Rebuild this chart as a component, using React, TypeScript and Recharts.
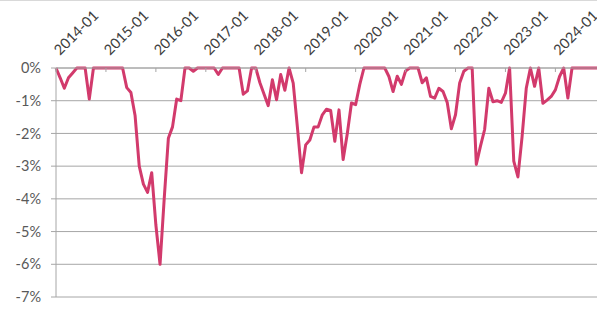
import React from "react";
import { LineChart, Line, XAxis, YAxis, CartesianGrid } from "recharts";

const startYear = 2014;
const tickLabels = ["2014-01","2015-01","2016-01","2017-01","2018-01","2019-01","2020-01","2021-01","2022-01","2023-01","2024-01"];
const yTicks = [0, -1, -2, -3, -4, -5, -6, -7];

const dd2014 = [0, -0.3, -0.62, -0.3, -0.15, 0, 0, 0, -0.95, 0, 0, 0];
const dd2015 = [0, 0, 0, 0, 0, -0.6, -0.75, -1.45, -3.0, -3.55, -3.8, -3.2];
const dd2016 = [-4.8, -6.0, -4.0, -2.15, -1.8, -0.95, -1.0, 0, 0, -0.1, 0, 0];
const dd2017 = [0, 0, 0, -0.2, 0, 0, 0, 0, 0, -0.8, -0.7, 0];
const dd2018 = [0, -0.45, -0.8, -1.15, -0.36, -0.97, -0.2, -0.68, 0, -0.46, -1.8, -3.2];
const dd2019 = [-2.35, -2.2, -1.8, -1.8, -1.43, -1.26, -1.3, -2.24, -1.28, -2.8, -2.0, -1.07];
const dd2020 = [-1.12, -0.5, 0, 0, 0, 0, 0, 0, -0.26, -0.72, -0.25, -0.5];
const dd2021 = [-0.09, 0, 0, 0, -0.45, -0.3, -0.87, -0.92, -0.62, -0.72, -1.05, -1.86];
const dd2022 = [-1.43, -0.46, -0.1, 0, 0, -2.95, -2.39, -1.88, -0.62, -1.03, -1.0, -1.05];
const dd2023 = [-0.77, 0, -2.85, -3.33, -2.1, -0.62, 0, -0.56, 0, -1.08, -0.98, -0.87];
const dd2024 = [-0.67, -0.26, 0, -0.92, 0, 0, 0, 0, 0, 0, 0];

const values = [...dd2014, ...dd2015, ...dd2016, ...dd2017, ...dd2018, ...dd2019, ...dd2020, ...dd2021, ...dd2022, ...dd2023, ...dd2024];

const months = values.map((_, i) => {
  const y = startYear + Math.floor(i / 12);
  const m = (i % 12) + 1;
  return `${y}-${m < 10 ? "0" + m : m}`;
});

const data = values.map((v, i) => ({ month: months[i], dd: v }));

const FONT = "Lato, 'Open Sans', sans-serif";

const XTick = (props: any) => {
  const { x, y, payload } = props;
  const label = payload.value as string;
  if (!tickLabels.includes(label)) return null;
  const bx = x + 4;
  const by = y - 12;
  return (
    <g>
      <line x1={x} y1={y} x2={x} y2={y + 4} stroke="#a6a6a6" strokeWidth={1} />
      <text
        x={bx}
        y={by}
        textAnchor="start"
        fill="#404040"
        fontSize={14.5}
        fontFamily={FONT}
        transform={`rotate(-45, ${bx}, ${by})`}
      >
        {label}
      </text>
    </g>
  );
};

export default function App() {
  return (
    <div style={{ position: "absolute", left: 0, top: 0, width: 597, height: 314, background: "#fff" }}>
      <div style={{ position: "absolute", left: 0, top: 0, width: 597, height: 1, background: "#d9d9d9" }} />
      <LineChart
        width={597}
        height={314}
        data={data}
        margin={{ top: 0, right: 0, left: 0, bottom: 17 }}
      >
        <CartesianGrid vertical={false} stroke="#a6a6a6" strokeWidth={1} />
        <XAxis
          dataKey="month"
          orientation="top"
          height={68}
          interval={11}
          tickSize={0}
          tickMargin={0}
          tickLine={false}
          axisLine={{ stroke: "#a6a6a6" }}
          tick={<XTick />}
        />
        <YAxis
          type="number"
          domain={[-7, 0]}
          ticks={yTicks}
          width={56}
          tickSize={5}
          tickMargin={10}
          interval={0}
          axisLine={{ stroke: "#a6a6a6" }}
          tickLine={{ stroke: "#a6a6a6" }}
          tick={{ fill: "#595959", fontSize: 14.5, fontFamily: FONT }}
          tickFormatter={(v: number) => `${v}%`}
        />
        <Line
          type="linear"
          dataKey="dd"
          stroke="#d23a6c"
          strokeWidth={3}
          dot={false}
          isAnimationActive={false}
          strokeLinejoin="round"
        />
      </LineChart>
    </div>
  );
}
